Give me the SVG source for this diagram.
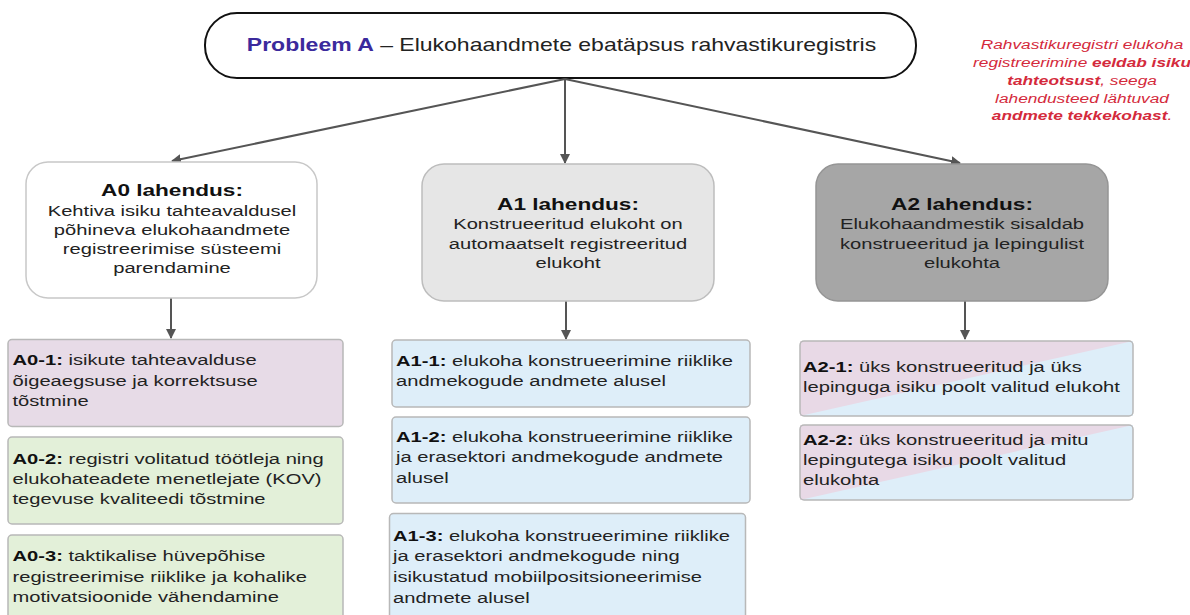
<svg xmlns="http://www.w3.org/2000/svg" width="1190" height="615" viewBox="0 0 1190 615">
<defs>
<marker id="ah" viewBox="0 0 10 10" refX="9" refY="5" markerWidth="5" markerHeight="5" orient="auto" markerUnits="strokeWidth">
<path d="M0,0 L10,5 L0,10 z" fill="#555"/>
</marker>
<style>
text{font-family:"Liberation Sans",Arial,sans-serif;fill:#222}
.t{font-size:15.5px}
.h{font-size:17.4px;font-weight:bold;fill:#111}
.b{font-weight:bold;fill:#111}
.note{font-size:13.3px;font-style:italic;fill:#d42a3c}
.note .b{fill:#d42a3c}
.conn{stroke:#555;stroke-width:2;fill:none;marker-end:url(#ah)}
.box{stroke:#b8b8b8;stroke-width:1.5}
</style>
</defs>
<rect width="1190" height="615" fill="#fff"/>

<g id="problem">
<rect x="205" y="13" width="711" height="65" rx="32" fill="#fff" stroke="#111" stroke-width="2"/>
<g transform="translate(561.5,0) scale(1.3,1)"><text x="0" y="51" text-anchor="middle" style="font-size:17.7px"><tspan style="font-weight:bold;fill:#3b2a9c">Probleem A</tspan> – Elukohaandmete ebatäpsus rahvastikuregistris</text></g>
</g>

<g id="note">
<g transform="translate(1082,0) scale(1.3,1)">
<text class="note" x="0" y="49" text-anchor="middle">Rahvastikuregistri elukoha</text>
<text class="note" x="0" y="67" text-anchor="middle">registreerimine <tspan class="b">eeldab isiku</tspan></text>
<text class="note" x="0" y="85" text-anchor="middle"><tspan class="b">tahteotsust</tspan>, seega</text>
<text class="note" x="0" y="103" text-anchor="middle">lahendusteed lähtuvad</text>
<text class="note" x="0" y="120" text-anchor="middle"><tspan class="b">andmete tekkekohast</tspan>.</text>
</g>
</g>

<g id="connectors">
<line class="conn" x1="565" y1="79" x2="172" y2="161"/>
<line class="conn" x1="565" y1="79" x2="565" y2="163"/>
<line class="conn" x1="565" y1="79" x2="960" y2="163"/>
<line class="conn" x1="171" y1="298" x2="171" y2="338"/>
<line class="conn" x1="566" y1="301" x2="566" y2="339"/>
<line class="conn" x1="965" y1="301" x2="965" y2="339"/>
</g>

<g id="A0">
<rect x="26" y="162" width="291" height="136" rx="22" fill="#fff" stroke="#c8c8c8" stroke-width="1.5"/>
<g transform="translate(172,0) scale(1.3,1)">
<text class="h" x="0" y="196" text-anchor="middle">A0 lahendus:</text>
<text class="t" x="0" y="216" text-anchor="middle">Kehtiva isiku tahteavaldusel</text>
<text class="t" x="0" y="235.5" text-anchor="middle">põhineva elukohaandmete</text>
<text class="t" x="0" y="254.5" text-anchor="middle">registreerimise süsteemi</text>
<text class="t" x="0" y="273.5" text-anchor="middle">parendamine</text>
</g>
</g>

<g id="A1">
<rect x="422" y="164" width="292" height="137" rx="22" fill="#e6e6e6" stroke="#bdbdbd" stroke-width="1.5"/>
<g transform="translate(568,0) scale(1.3,1)">
<text class="h" x="0" y="210" text-anchor="middle">A1 lahendus:</text>
<text class="t" x="0" y="229.5" text-anchor="middle">Konstrueeritud elukoht on</text>
<text class="t" x="0" y="249" text-anchor="middle">automaatselt registreeritud</text>
<text class="t" x="0" y="268.5" text-anchor="middle">elukoht</text>
</g>
</g>

<g id="A2">
<rect x="816" y="164" width="292" height="137" rx="22" fill="#a6a6a6" stroke="#959595" stroke-width="1.5"/>
<g transform="translate(962,0) scale(1.3,1)">
<text class="h" x="0" y="210" text-anchor="middle">A2 lahendus:</text>
<text class="t" x="0" y="229.5" text-anchor="middle">Elukohaandmestik sisaldab</text>
<text class="t" x="0" y="249" text-anchor="middle">konstrueeritud ja lepingulist</text>
<text class="t" x="0" y="268.5" text-anchor="middle">elukohta</text>
</g>
</g>

<g id="A0-1">
<rect class="box" x="8" y="339.5" width="335" height="87" rx="4" fill="#e7dbe7"/>
<g transform="translate(12.5,0) scale(1.3,1)">
<text class="t" x="0" y="365.5"><tspan class="b">A0-1:</tspan> isikute tahteavalduse</text>
<text class="t" x="0" y="386">õigeaegsuse ja korrektsuse</text>
<text class="t" x="0" y="406">tõstmine</text>
</g>
</g>

<g id="A0-2">
<rect class="box" x="8" y="437" width="335" height="87" rx="4" fill="#e3f0d9"/>
<g transform="translate(12.5,0) scale(1.3,1)">
<text class="t" x="0" y="464"><tspan class="b">A0-2:</tspan> registri volitatud töötleja ning</text>
<text class="t" x="0" y="484">elukohateadete menetlejate (KOV)</text>
<text class="t" x="0" y="504">tegevuse kvaliteedi tõstmine</text>
</g>
</g>

<g id="A0-3">
<rect class="box" x="8" y="535" width="335" height="95" rx="4" fill="#e3f0d9"/>
<g transform="translate(12.5,0) scale(1.3,1)">
<text class="t" x="0" y="561.5"><tspan class="b">A0-3:</tspan> taktikalise hüvepõhise</text>
<text class="t" x="0" y="582">registreerimise riiklike ja kohalike</text>
<text class="t" x="0" y="602">motivatsioonide vähendamine</text>
</g>
</g>

<g id="A1-1">
<rect class="box" x="392" y="340" width="358" height="67" rx="4" fill="#deeef9"/>
<g transform="translate(396,0) scale(1.3,1)">
<text class="t" x="0" y="366"><tspan class="b">A1-1:</tspan> elukoha konstrueerimine riiklike</text>
<text class="t" x="0" y="386">andmekogude andmete alusel</text>
</g>
</g>

<g id="A1-2">
<rect class="box" x="392" y="417" width="358" height="86" rx="4" fill="#deeef9"/>
<g transform="translate(396,0) scale(1.3,1)">
<text class="t" x="0" y="442.5"><tspan class="b">A1-2:</tspan> elukoha konstrueerimine riiklike</text>
<text class="t" x="0" y="462.5">ja erasektori andmekogude andmete</text>
<text class="t" x="0" y="483">alusel</text>
</g>
</g>

<g id="A1-3">
<rect class="box" x="389.5" y="513.5" width="356" height="120" rx="4" fill="#deeef9"/>
<g transform="translate(393,0) scale(1.3,1)">
<text class="t" x="0" y="541.5"><tspan class="b">A1-3:</tspan> elukoha konstrueerimine riiklike</text>
<text class="t" x="0" y="561.5">ja erasektori andmekogude ning</text>
<text class="t" x="0" y="582.5">isikustatud mobiilpositsioneerimise</text>
<text class="t" x="0" y="603">andmete alusel</text>
</g>
</g>

<g id="A2-1">
<polygon points="800,341 1133,341 1133,416 800,416" fill="#deeef9"/>
<polygon points="800,341 1133,341 800,416" fill="#e8d9e6"/>
<rect class="box" x="800" y="341" width="333" height="75" rx="4" fill="none"/>
<g transform="translate(803,0) scale(1.3,1)">
<text class="t" x="0" y="372"><tspan class="b">A2-1:</tspan> üks konstrueeritud ja üks</text>
<text class="t" x="0" y="392">lepinguga isiku poolt valitud elukoht</text>
</g>
</g>

<g id="A2-2">
<polygon points="800,425 1133,425 1133,500 800,500" fill="#deeef9"/>
<polygon points="800,425 1133,425 800,500" fill="#e8d9e6"/>
<rect class="box" x="800" y="425" width="333" height="75" rx="4" fill="none"/>
<g transform="translate(803,0) scale(1.3,1)">
<text class="t" x="0" y="445"><tspan class="b">A2-2:</tspan> üks konstrueeritud ja mitu</text>
<text class="t" x="0" y="465">lepingutega isiku poolt valitud</text>
<text class="t" x="0" y="485">elukohta</text>
</g>
</g>
</svg>
